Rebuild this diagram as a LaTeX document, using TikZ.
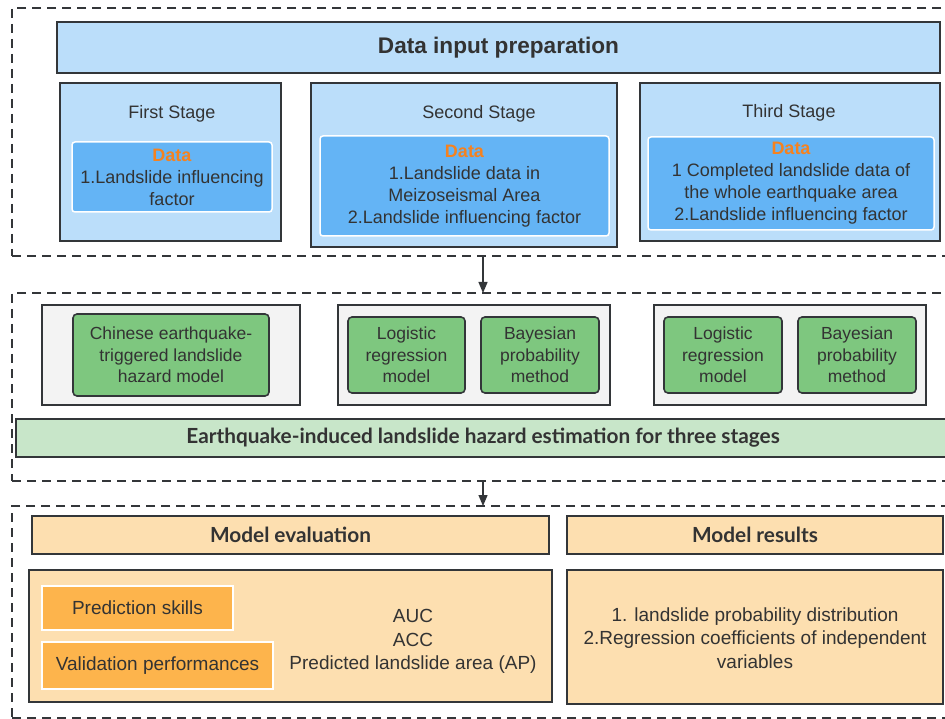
\documentclass[tikz,border=0pt]{standalone}
\usepackage{fontspec}
\setmainfont{Liberation Sans}
\newfontfamily\bandfont{Lato}
\usetikzlibrary{arrows.meta}
\definecolor{ink}{HTML}{333639}
\definecolor{txt}{HTML}{333333}
\definecolor{hblue}{HTML}{BBDEFA}
\definecolor{dblue}{HTML}{64B4F5}
\definecolor{dorange}{HTML}{F5821F}
\definecolor{gbox}{HTML}{F3F3F3}
\definecolor{gmod}{HTML}{7EC77F}
\definecolor{gband}{HTML}{C8E6C9}
\definecolor{olight}{HTML}{FDDFB0}
\definecolor{odark}{HTML}{FDB44C}
\tikzset{
  base/.style={anchor=north west, inner sep=0pt, outer sep=0pt, text=txt, align=center},
  dashbox/.style={base, draw=ink, line width=1.6pt, dash pattern=on 9pt off 6pt},
  hdrbox/.style={base, draw=ink, line width=1.8pt, fill=hblue, font=\fontsize{22.6}{26}\selectfont\bfseries},
  stagebox/.style={base, draw=ink, line width=1.5pt, fill=hblue},
  databox/.style={base, draw=white, line width=1.5pt, fill=dblue, rounded corners=3pt, font=\fontsize{18}{22}\selectfont},
  titletext/.style={text=txt, inner sep=0pt, font=\fontsize{18}{22}\selectfont},
  graybox/.style={base, draw=ink, line width=1.5pt, fill=gbox},
  modbox/.style={base, draw=ink, line width=1.6pt, fill=gmod, rounded corners=4pt, font=\fontsize{17.5}{21.5}\selectfont},
  bandbox/.style={base, draw=ink, line width=1.2pt, fill=gband, font=\fontsize{20.8}{24}\bandfont\bfseries},
  evhdr/.style={base, draw=ink, line width=1.8pt, fill=olight, font=\fontsize{20.8}{24}\bandfont\bfseries},
  evbody/.style={base, draw=ink, line width=1.5pt, fill=olight},
  skillbox/.style={base, draw=white, line width=1.5pt, fill=odark, font=\fontsize{19}{23.5}\selectfont},
  bodytext/.style={text=txt, inner sep=0pt, align=center, font=\fontsize{19}{23.5}\selectfont},
  arr/.style={draw=ink, line width=1.3pt, -{Triangle[length=11pt,width=9pt]}}
}
\newcommand\dlab{\textcolor{dorange}{\bfseries Data}}
\begin{document}
\begin{tikzpicture}[x=1pt,y=-1pt]
\clip (0,0) rectangle (945,719);
\fill[white] (0,0) rectangle (945,719);

% ---------- top section ----------
\node[dashbox, minimum width=948pt, minimum height=248pt] (box1) at (12,8) {};
\node[hdrbox, minimum width=883pt, minimum height=51pt] (hdr) at (57,22) {Data input preparation};

\node[stagebox, minimum width=221pt, minimum height=158pt] (st1) at (60,83) {};
\node[stagebox, minimum width=306pt, minimum height=164pt] (st2) at (311,83) {};
\node[stagebox, minimum width=300pt, minimum height=158pt] (st3) at (640,83) {};

\node[titletext] (t1) at (172,113.5) {First Stage};
\node[titletext] (t2) at (479,113.5) {Second Stage};
\node[titletext] (t3) at (789,112.5) {Third Stage};

\node[databox, minimum width=200pt, minimum height=70pt] (d1) at (72,142)
  {\dlab\\1.Landslide influencing\\factor};
\node[databox, minimum width=289pt, minimum height=100pt] (d2) at (320,136)
  {\dlab\\1.Landslide data in\\Meizoseismal Area\\2.Landslide influencing factor};
\node[databox, minimum width=286pt, minimum height=93pt] (d3) at (648,137)
  {\dlab\\1 Completed landslide data of\\the whole earthquake area\\2.Landslide influencing factor};

% ---------- middle section ----------
\node[dashbox, minimum width=948pt, minimum height=188pt] (box2) at (12,293) {};

\node[graybox, minimum width=258pt, minimum height=100pt] (g1) at (42,305) {};
\node[graybox, minimum width=272pt, minimum height=100pt] (g2) at (338,305) {};
\node[graybox, minimum width=272pt, minimum height=100pt] (g3) at (654,305) {};

\node[modbox, minimum width=196pt, minimum height=82pt] (m1) at (73,314)
  {Chinese earthquake-\\triggered landslide\\hazard model};
\node[modbox, minimum width=117pt, minimum height=76pt] (m2) at (348,317)
  {Logistic\\regression\\model};
\node[modbox, minimum width=118pt, minimum height=76pt] (m3) at (481,317)
  {Bayesian\\probability\\method};
\node[modbox, minimum width=118pt, minimum height=76pt] (m4) at (664,317)
  {Logistic\\regression\\model};
\node[modbox, minimum width=118pt, minimum height=76pt] (m5) at (798,317)
  {Bayesian\\probability\\method};

\node[bandbox, minimum width=934pt, minimum height=38pt] (band) at (16,419)
  {Earthquake-induced landslide hazard estimation for three stages};

% ---------- bottom section ----------
\node[dashbox, minimum width=948pt, minimum height=212pt] (box3) at (12,506) {};

\node[evhdr, minimum width=517pt, minimum height=38pt] (eh) at (32,516) {Model evaluation};
\node[evhdr, minimum width=376pt, minimum height=38pt] (rh) at (567,516) {Model results};

\node[evbody, minimum width=523pt, minimum height=132pt] (eb) at (29,570) {};
\node[evbody, minimum width=376pt, minimum height=134pt] (rb) at (567,570) {};

\node[skillbox, minimum width=191pt, minimum height=44pt] (ps) at (42,586) {Prediction skills};
\node[skillbox, minimum width=231pt, minimum height=47pt] (vp) at (42,642) {Validation performances};

\node[bodytext] (met) at (413,641.5) {AUC\\ACC\\Predicted landslide area (AP)};
\node[bodytext] (res) at (755,638) {1. landslide probability distribution\\2.Regression coefficients of independent\\variables};

% ---------- connectors ----------
\coordinate (ax) at (483,0);
\draw[arr] (box1.south -| ax) -- (box2.north -| ax);
\draw[arr] (box2.south -| ax) -- (box3.north -| ax);
\end{tikzpicture}
\end{document}
